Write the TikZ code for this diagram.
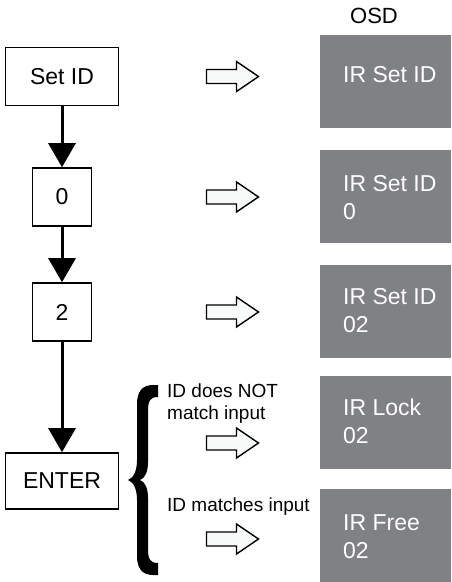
\documentclass[tikz,border=0pt]{standalone}
\usepackage{fontspec}
\setmainfont{Liberation Sans}
\usetikzlibrary{arrows.meta,positioning}
\definecolor{osdgray}{RGB}{128,129,133}
\definecolor{hollow}{RGB}{248,250,250}

\tikzset{
  keybox/.style={draw=black, line width=1.6pt, minimum height=58pt, inner sep=0pt, font=\fontsize{23}{27}\selectfont},
  flow/.style={line width=3pt, -{Triangle[width=27pt,length=24pt]}},
  osdbox/.style={fill=osdgray, minimum width=131pt, minimum height=93pt, anchor=north west, inner sep=0pt},
  osdtext/.style={text=white, align=left, anchor=north west, inner sep=0pt, font=\fontsize{23}{28}\selectfont},
  note/.style={align=left, anchor=north west, inner sep=0pt, font=\fontsize{19}{22}\selectfont},
  pics/showarrow/.style={code={
    \draw[line width=1.4pt, fill=hollow, line join=miter] (-26,-7) -- (4,-7) -- (4,-15) -- (26,0) -- (4,15) -- (4,7) -- (-26,7) -- cycle;
  }}
}

\begin{document}
\begin{tikzpicture}[x=1pt,y=-1pt]
  \useasboundingbox (0,0) rectangle (451,582);
  % keys
  \node[keybox, minimum width=113pt] (setid) at (62,76.5) {Set ID};
  \node[keybox, minimum width=59pt] (zero) at (62,197) {0};
  \node[keybox, minimum width=59pt] (two) at (62,312) {2};
  \node[keybox, minimum width=113pt, minimum height=56pt] (enter) at (62,481) {ENTER};
  \draw[flow] (setid) -- (zero);
  \draw[flow] (zero) -- (two);
  \draw[flow] (two) -- (enter);

  % on-screen display
  \node[anchor=base, inner sep=0pt, font=\fontsize{22}{26}\selectfont] (osdtitle) at (374,23) {OSD};
  \node[osdbox] (osd1) at (320,35) {};
  \node[osdbox] (osd2) at (320,150) {};
  \node[osdbox] (osd3) at (320,265) {};
  \node[osdbox] (osd4) at (320,376) {};
  \node[osdbox] (osd5) at (320,489) {};
  \node[osdtext] (msg1) at ([xshift=23pt,yshift=-31.5pt]osd1.north west) {IR Set ID};
  \node[osdtext] (msg2) at ([xshift=23pt,yshift=-25.5pt]osd2.north west) {IR Set ID\\0};
  \node[osdtext] (msg3) at ([xshift=23pt,yshift=-23.5pt]osd3.north west) {IR Set ID\\02};
  \node[osdtext] (msg4) at ([xshift=23pt,yshift=-22.5pt]osd4.north west) {IR Lock\\02};
  \node[osdtext] (msg5) at ([xshift=23pt,yshift=-25pt]osd5.north west) {IR Free\\02};

  % hollow arrows
  \pic at (232.5,76.5) {showarrow};
  \pic at (232.5,197) {showarrow};
  \pic at (232.5,312) {showarrow};
  \pic at (232.5,443) {showarrow};
  \pic at (232.5,539) {showarrow};

  % ENTER outcomes
  \fill (158,385) -- (158,397)
    .. controls (150,397) and (148,401) .. (148,411) -- (148,462)
    .. controls (148,472) and (145,478) .. (140,480)
    .. controls (145,482) and (148,488) .. (148,498) -- (148,549)
    .. controls (148,559) and (150,563) .. (158,563) -- (158,575) -- (153,575)
    .. controls (142,575) and (137,568) .. (137,556) -- (137,500)
    .. controls (137,490) and (134,482) .. (128,480)
    .. controls (134,478) and (137,470) .. (137,460) -- (137,404)
    .. controls (137,392) and (142,385) .. (153,385) -- cycle;
  \node[note] (nomatch) at (167,383.5) {ID does NOT\\match input};
  \node[note] (match) at (167,497.5) {ID matches input};
\end{tikzpicture}
\end{document}
